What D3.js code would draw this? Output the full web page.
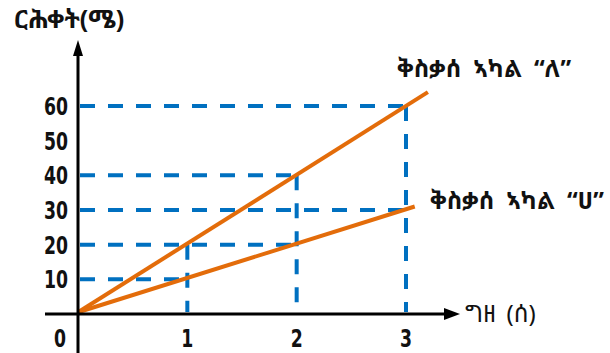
<!DOCTYPE html>
<html>
<head>
<meta charset="utf-8">
<script src="https://cdn.jsdelivr.net/npm/d3@7"></script>
<style>
  body { margin: 0; background: #fff; }
  .tick-lbl { font-family: "DejaVu Sans Condensed", "Liberation Sans Narrow", sans-serif; font-weight: bold; font-size: 25px; fill: #111; }
  .eth { font-family: "Noto Sans Ethiopic", "Abyssinica SIL", "FreeSerif", "DejaVu Sans", serif; fill: #111; }
</style>
</head>
<body>
<div class="chart"></div>
<script>
// values
var yTicks = [10, 20, 30, 40, 50, 60];
var xTicks = [1, 2, 3];
var lineA = [[0, 0.5], [3.2, 64]];   // body "ለ"
var lineB = [[0, 0.5], [3.08, 31]];  // body "ሀ"
var guidePoints = [[1, 10], [1, 20], [2, 20], [2, 40], [3, 30], [3, 60]];
var labelA = "ቅስቃሰ ኣካል “ለ”";
var labelB = "ቅስቃሰ ኣካል “ሀ”";
var yTitle = "ርሕቀት(ሜ)";
var xTitle = "ግዘ (ሰ)";

var width = 610, height = 353;
var svg = d3.select(".chart").append("svg")
    .attr("width", width)
    .attr("height", height);

var x = d3.scaleLinear().domain([0, 3]).range([78, 406]);
var y = d3.scaleLinear().domain([0, 60]).range([314, 106]);

var blue = "#0070c0", orange = "#e36c0a";

// dashed guides
var hGuides = d3.rollups(guidePoints, function(v) { return d3.max(v, function(d) { return d[0]; }); }, function(d) { return d[1]; });
svg.selectAll(".hguide")
  .data(hGuides)
  .enter().append("line")
    .attr("x1", x(0) + 2)
    .attr("x2", function(d) { return x(d[1]); })
    .attr("y1", function(d) { return y(d[0]); })
    .attr("y2", function(d) { return y(d[0]); })
    .attr("stroke", blue).attr("stroke-width", 4).attr("stroke-dasharray", "15,13");

var vGuides = d3.rollups(guidePoints, function(v) { return d3.max(v, function(d) { return d[1]; }); }, function(d) { return d[0]; });
svg.selectAll(".vguide")
  .data(vGuides)
  .enter().append("line")
    .attr("x1", function(d) { return x(d[0]); })
    .attr("x2", function(d) { return x(d[0]); })
    .attr("y1", function(d) { return y(d[1]); })
    .attr("y2", y(0) - 2)
    .attr("stroke", blue).attr("stroke-width", 4).attr("stroke-dasharray", "15,13");

// motion lines
var line = d3.line().x(function(d) { return x(d[0]); }).y(function(d) { return y(d[1]); });
svg.selectAll(".mline")
  .data([lineA, lineB])
  .enter().append("path")
    .attr("d", line)
    .attr("fill", "none")
    .attr("stroke", orange)
    .attr("stroke-width", 4);

// axes with arrows
svg.append("line")
    .attr("x1", x(0)).attr("x2", x(0))
    .attr("y1", height).attr("y2", 52)
    .attr("stroke", "#000").attr("stroke-width", 3);
svg.append("path")
    .attr("d", "M" + x(0) + ",40 L" + (x(0) - 5) + ",56 L" + (x(0) + 5) + ",56 Z")
    .attr("fill", "#000");

svg.append("line")
    .attr("x1", 45).attr("x2", 450)
    .attr("y1", y(0)).attr("y2", y(0))
    .attr("stroke", "#000").attr("stroke-width", 3);
svg.append("path")
    .attr("d", "M460," + y(0) + " L444," + (y(0) - 6) + " L444," + (y(0) + 6) + " Z")
    .attr("fill", "#000");

// tick labels
svg.selectAll(".ylbl")
  .data(yTicks)
  .enter().append("text")
    .attr("class", "tick-lbl")
    .attr("x", 68)
    .attr("y", function(d) { return y(d); })
    .attr("dy", "0.36em")
    .attr("text-anchor", "end")
    .attr("textLength", 24)
    .attr("lengthAdjust", "spacingAndGlyphs")
    .text(function(d) { return d; });

svg.selectAll(".xlbl")
  .data([0].concat(xTicks))
  .enter().append("text")
    .attr("class", "tick-lbl")
    .attr("x", function(d) { return d === 0 ? 60 : x(d); })
    .attr("y", 338)
    .attr("dy", "0.36em")
    .attr("text-anchor", "middle")
    .attr("textLength", 12)
    .attr("lengthAdjust", "spacingAndGlyphs")
    .text(function(d) { return d; });

// titles
svg.append("text").attr("class", "eth")
    .attr("x", 14).attr("y", 28)
    .style("font-size", "25px")
    .style("font-weight", "bold")
    .text(yTitle);
svg.append("text").attr("class", "eth")
    .attr("x", 465).attr("y", y(0) + 8)
    .style("font-size", "24px")
    .style("word-spacing", "4px")
    .text(xTitle);

svg.append("text").attr("class", "eth")
    .attr("x", 397).attr("y", 77)
    .style("font-size", "24px")
    .style("font-weight", "bold")
    .style("word-spacing", "6px")
    .text(labelA);
svg.append("text").attr("class", "eth")
    .attr("x", 430).attr("y", 209)
    .style("font-size", "24px")
    .style("font-weight", "bold")
    .style("word-spacing", "6px")
    .text(labelB);
</script>
</body>
</html>
